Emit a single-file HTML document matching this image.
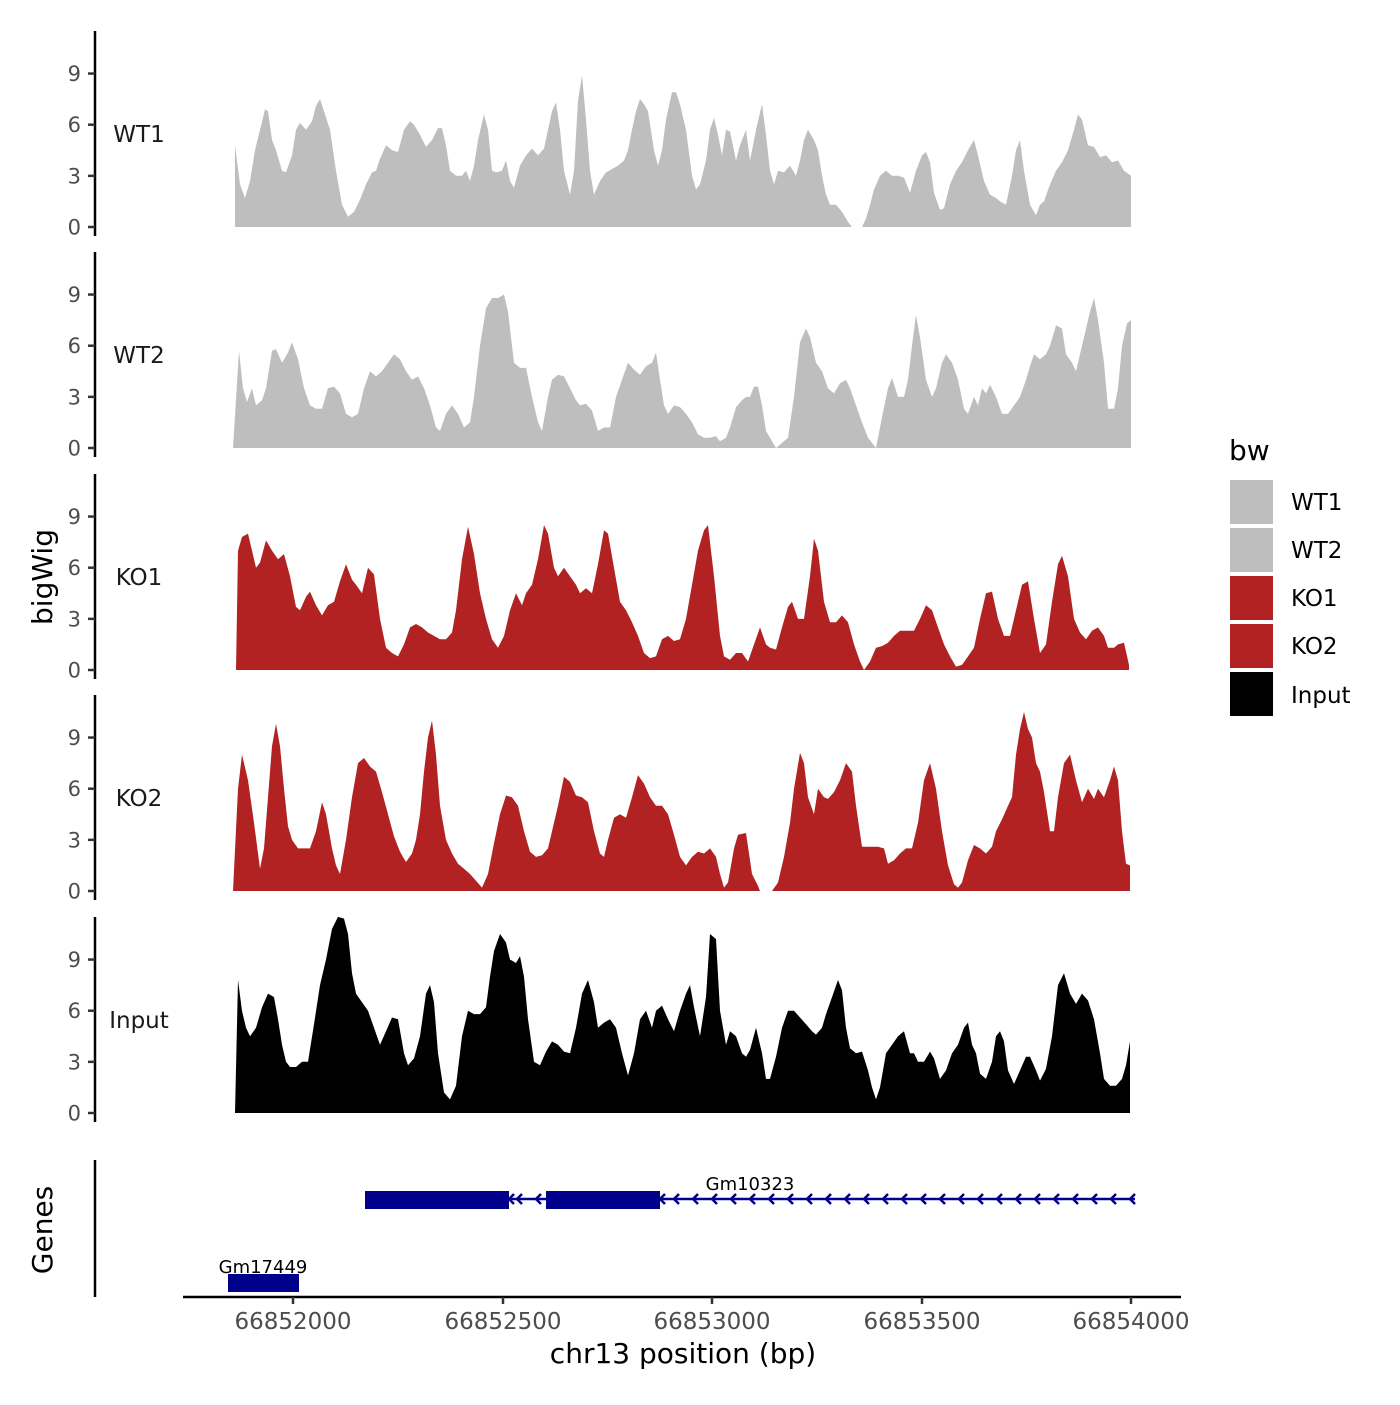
<!DOCTYPE html>
<html><head><meta charset="utf-8"><style>
html,body{margin:0;padding:0;background:#fff;}
svg text{font-family:"DejaVu Sans","Liberation Sans",sans-serif;}
</style></head><body>
<svg id="s" width="1400" height="1400" viewBox="0 0 1400 1400" xmlns="http://www.w3.org/2000/svg">
<rect width="1400" height="1400" fill="#fff"/>
<g id="tracks"></g>
<g id="axes" stroke="#000" stroke-width="2.5" fill="none"></g>
<g id="ticks"></g>
<g fill="#00008B" stroke="#00008B">
<line x1="365" y1="1199" x2="1135" y2="1199" stroke-width="2.5"/>
<rect x="365" y="1191" width="144" height="18" stroke="none"/>
<rect x="546" y="1191" width="114" height="18" stroke="none"/>
<rect x="228" y="1274" width="71" height="18" stroke="none"/>
<g id="chev" fill="none" stroke-width="2.5"></g>
</g>
<text x="750" y="1190" font-size="18" text-anchor="middle" fill="#000">Gm10323</text>
<text x="263" y="1273" font-size="18" text-anchor="middle" fill="#000">Gm17449</text>
<line x1="183" y1="1297" x2="1181" y2="1297" stroke="#000" stroke-width="2.5"/>
<g id="xt"></g>
<text x="683" y="1363" font-size="28" text-anchor="middle" fill="#000">chr13 position (bp)</text>
<text transform="translate(52,577) rotate(-90)" font-size="28" text-anchor="middle" fill="#000">bigWig</text>
<text transform="translate(52,1230) rotate(-90)" font-size="28" text-anchor="middle" fill="#000">Genes</text>
<text x="1229" y="460" font-size="28" fill="#000">bw</text>
<rect x="1230" y="480" width="43" height="44" fill="#BEBEBE"/>
<rect x="1230" y="528" width="43" height="44" fill="#BEBEBE"/>
<rect x="1230" y="576" width="43" height="44" fill="#B22222"/>
<rect x="1230" y="624" width="43" height="44" fill="#B22222"/>
<rect x="1230" y="672" width="43" height="44" fill="#000"/>
<g font-size="23" fill="#000">
<text x="1291" y="510">WT1</text>
<text x="1291" y="558">WT2</text>
<text x="1291" y="606">KO1</text>
<text x="1291" y="654">KO2</text>
<text x="1291" y="703">Input</text>
</g>
</svg>
<script>
var NS="http://www.w3.org/2000/svg";
function el(t,a,p,txt){var e=document.createElementNS(NS,t);for(var k in a)e.setAttribute(k,a[k]);if(txt!==undefined)e.textContent=txt;p.appendChild(e);return e;}
var tracks=[
{name:"WT1",base:227,col:"#BEBEBE",d:[[235,0],[235,4.8],[240,2.5],[245,1.7],[250,2.7],[255,4.5],[260,5.7],[265,6.9],[268,6.8],[272,5.1],[276,4.5],[282,3.3],[286,3.2],[292,4.2],[296,5.7],[300,6.1],[306,5.7],[312,6.2],[316,7.1],[320,7.5],[324,6.8],[330,5.7],[336,3.3],[342,1.3],[348,0.6],[354,0.9],[360,1.6],[366,2.5],[372,3.2],[376,3.3],[380,4.0],[386,4.8],[392,4.5],[398,4.4],[404,5.7],[410,6.2],[414,6.0],[420,5.4],[426,4.7],[432,5.1],[438,5.8],[442,5.8],[446,4.8],[450,3.3],[456,3.0],[462,3.0],[466,3.3],[470,2.7],[474,3.6],[478,5.1],[484,6.6],[488,5.7],[492,3.3],[496,3.2],[502,3.3],[506,3.9],[510,2.7],[514,2.3],[520,3.6],[526,4.2],[532,4.6],[538,4.2],[544,4.6],[548,5.7],[552,6.8],[556,7.3],[560,5.7],[564,3.3],[570,1.9],[574,3.3],[578,7.4],[582,8.9],[586,6.3],[590,3.3],[594,1.9],[600,2.7],[606,3.2],[612,3.4],[618,3.6],[624,3.9],[628,4.5],[632,5.7],[636,6.8],[640,7.5],[644,7.2],[648,6.8],[654,4.5],[658,3.6],[662,4.5],[666,6.3],[672,7.9],[676,7.9],[680,7.2],[686,5.7],[692,3.0],[696,2.2],[700,2.5],[706,3.9],[710,5.7],[714,6.4],[718,5.4],[722,4.2],[726,5.7],[730,5.6],[736,3.9],[740,4.8],[746,5.7],[750,3.9],[756,5.7],[762,7.2],[766,5.4],[770,3.3],[774,2.5],[778,3.3],[784,3.2],[790,3.6],[796,3.0],[800,3.9],[804,5.1],[808,5.7],[814,5.1],[818,4.5],[822,3.0],[826,1.9],[830,1.3],[836,1.3],[842,0.9],[848,0.3],[852,0],[862,0],[866,0.5],[870,1.3],[874,2.2],[880,3.0],[886,3.3],[892,3.0],[898,3.0],[904,2.9],[910,2.0],[916,3.3],[922,4.2],[926,4.4],[930,3.8],[934,2.0],[940,1.0],[944,1.1],[950,2.5],[956,3.3],[962,3.8],[968,4.5],[974,5.1],[978,4.2],[984,2.7],[990,1.9],[996,1.7],[1000,1.5],[1006,1.3],[1012,3.0],[1016,4.5],[1020,5.1],[1024,3.3],[1030,1.3],[1036,0.7],[1040,1.3],[1044,1.5],[1050,2.5],[1056,3.3],[1062,3.8],[1068,4.5],[1074,5.7],[1078,6.6],[1082,6.3],[1088,4.8],[1094,4.7],[1100,4.1],[1106,4.2],[1112,3.8],[1118,3.9],[1124,3.3],[1131,3.0],[1131,0]]},
{name:"WT2",base:448,col:"#BEBEBE",d:[[233,0],[239,5.7],[243,3.5],[247,2.7],[252,3.5],[256,2.5],[262,2.8],[266,3.5],[272,5.7],[276,5.8],[282,5],[288,5.6],[292,6.2],[298,5.2],[304,3.5],[310,2.5],[316,2.3],[322,2.3],[328,3.5],[334,3.6],[340,3.2],[346,2.0],[352,1.8],[358,2.0],[364,3.5],[370,4.5],[376,4.2],[382,4.5],[388,5.0],[394,5.5],[400,5.2],[406,4.5],[412,4.0],[418,4.2],[424,3.5],[430,2.5],[436,1.2],[440,1.0],[446,2.0],[452,2.5],[458,2.0],[464,1.2],[470,1.5],[474,3.0],[480,6.0],[486,8.2],[492,8.8],[498,8.8],[504,9.0],[508,8.0],[514,5.0],[520,4.7],[526,4.7],[532,3.0],[538,1.5],[542,1.0],[548,3.0],[552,4.0],[558,4.3],[564,4.2],[570,3.5],[576,2.8],[580,2.5],[586,2.6],[592,2.2],[598,1.0],[604,1.2],[610,1.2],[616,3.0],[622,4.0],[628,5.0],[634,4.6],[640,4.3],[646,4.8],[652,5.0],[656,5.6],[660,4.0],[664,2.5],[668,2.0],[674,2.5],[680,2.4],[686,2.0],[692,1.5],[698,0.8],[704,0.6],[710,0.6],[716,0.7],[720,0.4],[726,0.6],[730,1.2],[736,2.4],[742,2.8],[746,3.0],[750,3.0],[754,3.6],[758,3.6],[762,2.5],[766,1.0],[770,0.6],[776,0],[782,0.3],[788,0.6],[794,3.0],[800,6.2],[806,7.0],[810,6.5],[816,5.0],[822,4.5],[828,3.5],[834,3.2],[840,3.8],[846,4.0],[850,3.5],[856,2.5],[862,1.5],[868,0.6],[876,0],[882,1.8],[888,3.5],[892,4.1],[898,3.0],[904,3.0],[908,4.0],[912,6.0],[916,7.8],[920,6.5],[926,4.0],[932,3.0],[936,3.5],[942,5.0],[946,5.5],[952,5.0],[958,4.0],[964,2.3],[968,2.0],[974,3.0],[978,2.5],[982,3.5],[986,3.2],[990,3.7],[996,3.0],[1002,2.0],[1008,2.0],[1014,2.5],[1020,3.0],[1026,4.0],[1030,4.8],[1034,5.5],[1040,5.2],[1046,5.5],[1050,6.0],[1056,7.2],[1062,7.0],[1066,5.5],[1072,5.0],[1076,4.5],[1080,5.5],[1084,6.5],[1090,8.0],[1094,8.8],[1098,7.5],[1104,5.0],[1108,2.3],[1114,2.3],[1118,3.5],[1122,6.0],[1127,7.3],[1131,7.5],[1131,0]]},
{name:"KO1",base:670,col:"#B22222",d:[[236,0],[238,7.0],[242,7.8],[248,8.0],[252,7.0],[256,6.0],[260,6.3],[266,7.6],[272,7.0],[278,6.5],[284,6.8],[290,5.5],[296,3.7],[300,3.5],[306,4.3],[310,4.6],[316,3.8],[322,3.2],[328,3.8],[334,4.0],[340,5.2],[346,6.2],[352,5.3],[356,5.0],[362,4.5],[368,6.0],[374,5.6],[380,3.0],[386,1.3],[392,1.0],[398,0.8],[404,1.5],[410,2.5],[416,2.7],[422,2.5],[428,2.2],[434,2.0],[440,1.8],[446,1.8],[452,2.2],[456,3.5],[462,6.5],[468,8.4],[474,6.8],[480,4.5],[486,3.0],[492,1.8],[498,1.3],[504,2.0],[510,3.5],[516,4.5],[522,3.8],[526,4.5],[532,5.0],[538,6.5],[544,8.5],[548,8.0],[554,6.0],[558,5.5],[564,6.0],[570,5.5],[576,5.0],[580,4.5],[586,4.8],[592,4.5],[598,6.2],[604,8.2],[608,8.0],[614,6.0],[620,4.0],[626,3.5],[632,2.8],[638,2.0],[644,1.0],[650,0.7],[656,0.8],[662,1.8],[668,2.0],[674,1.7],[680,1.8],[686,3.0],[692,5.0],[698,7.0],[704,8.2],[708,8.5],[714,5.5],[720,2.0],[724,0.8],[730,0.6],[736,1.0],[742,1.0],[748,0.5],[754,1.5],[760,2.5],[766,1.5],[770,1.3],[776,1.2],[782,2.5],[788,3.7],[792,4.0],[798,3.0],[804,3.0],[810,5.5],[814,7.7],[818,7.0],[824,4.0],[830,2.8],[836,2.8],[842,3.2],[848,2.8],[854,1.5],[860,0.5],[864,0],[870,0.5],[876,1.3],[882,1.4],[888,1.6],[894,2.0],[900,2.3],[906,2.3],[914,2.3],[920,3.0],[926,3.8],[932,3.5],[938,2.5],[944,1.5],[950,0.8],[956,0.2],[962,0.3],[968,0.8],[974,1.3],[980,3.0],[986,4.5],[992,4.6],[998,3.0],[1004,2.0],[1010,2.0],[1016,3.5],[1022,5.0],[1028,5.2],[1034,3.0],[1040,1.0],[1046,1.5],[1052,4.0],[1058,6.2],[1062,6.7],[1068,5.5],[1074,3.0],[1080,2.2],[1086,1.8],[1092,2.3],[1098,2.5],[1104,2.0],[1108,1.3],[1114,1.3],[1118,1.5],[1124,1.6],[1129,0.3],[1129,0]]},
{name:"KO2",base:891,col:"#B22222",d:[[233,0],[238,6],[242,8.0],[248,6.5],[254,4.0],[260,1.3],[264,2.5],[268,5.5],[272,8.5],[276,9.8],[280,8.5],[284,6.0],[288,3.8],[292,3.0],[298,2.5],[304,2.5],[310,2.5],[316,3.5],[322,5.2],[326,4.5],[332,2.5],[336,1.5],[340,1.0],[346,3.0],[352,5.5],[358,7.5],[364,7.8],[370,7.3],[376,7.0],[382,5.8],[388,4.5],[394,3.2],[400,2.3],[406,1.7],[412,2.2],[416,3.0],[420,4.5],[424,7.0],[428,9.0],[432,10.0],[436,8.0],[440,5.0],[446,3.0],[452,2.2],[458,1.6],[464,1.3],[470,1.0],[476,0.6],[482,0.2],[488,1.0],[494,2.8],[500,4.5],[506,5.6],[512,5.5],[518,5.0],[524,3.5],[530,2.3],[536,2.0],[542,2.1],[548,2.5],[552,3.5],[558,5.0],[564,6.7],[570,6.4],[576,5.6],[582,5.5],[588,5.2],[594,3.5],[600,2.2],[604,2.0],[608,3.0],[614,4.3],[620,4.5],[626,4.3],[632,5.5],[638,6.8],[644,6.3],[650,5.5],[656,5.0],[662,5.0],[668,4.5],[674,3.3],[680,2.0],[686,1.5],[692,2.0],[698,2.3],[704,2.2],[710,2.5],[716,2.0],[720,1.0],[724,0.2],[728,0.5],[734,2.5],[738,3.3],[746,3.4],[752,1.0],[758,0.3],[760,0],[772,0],[778,0.5],[784,2.0],[790,4.0],[794,6.0],[800,8.1],[804,7.5],[808,5.5],[814,4.5],[818,6.0],[824,5.5],[828,5.4],[834,5.8],[840,6.5],[846,7.5],[852,7.0],[856,5.0],[862,2.6],[870,2.6],[878,2.6],[884,2.5],[888,1.6],[894,1.8],[900,2.2],[906,2.5],[912,2.5],[918,4.0],[924,6.5],[930,7.5],[936,6.0],[942,3.5],[948,1.5],[954,0.4],[958,0.2],[962,0.5],[968,1.8],[974,2.7],[980,2.5],[986,2.2],[992,2.6],[996,3.5],[1002,4.2],[1008,5.0],[1012,5.5],[1016,8.0],[1020,9.5],[1024,10.5],[1028,9.5],[1032,9.0],[1036,7.5],[1040,7.0],[1044,5.8],[1050,3.5],[1054,3.5],[1058,5.5],[1064,7.5],[1070,8.0],[1076,6.5],[1082,5.2],[1088,6.0],[1094,5.4],[1098,6.0],[1104,5.5],[1110,6.5],[1114,7.3],[1118,6.5],[1122,3.5],[1126,1.6],[1130,1.5],[1130,0]]},
{name:"Input",base:1113,col:"#000000",d:[[235,0],[238,7.8],[242,6.0],[246,5.0],[250,4.5],[256,5.0],[262,6.2],[268,7.0],[274,6.8],[278,5.5],[282,4.0],[286,3.0],[290,2.7],[296,2.7],[302,3.0],[308,3.0],[314,5.2],[320,7.5],[326,9.0],[332,10.8],[338,11.5],[344,11.4],[348,10.5],[352,8.2],[356,7.0],[362,6.5],[368,6.0],[374,5.0],[380,4.0],[386,4.8],[392,5.6],[398,5.5],[404,3.5],[408,2.8],[414,3.2],[420,4.5],[426,7.0],[430,7.5],[434,6.5],[438,3.5],[444,1.2],[450,0.8],[456,1.6],[462,4.5],[468,6.0],[474,5.8],[480,5.8],[486,6.2],[490,8.0],[494,9.5],[500,10.5],[506,10.0],[510,9.0],[516,8.8],[520,9.2],[524,8.0],[528,5.5],[534,3.0],[540,2.8],[546,3.6],[552,4.2],[558,4.0],[564,3.6],[570,3.5],[576,5.0],[582,7.0],[588,7.8],[594,6.5],[598,5.0],[604,5.3],[610,5.5],[616,5.0],[622,3.5],[628,2.2],[634,3.5],[640,5.5],[646,6.0],[652,5.0],[656,6.0],[662,6.3],[668,5.5],[674,4.8],[680,6.0],[686,7.0],[690,7.5],[694,6.2],[700,4.5],[706,6.8],[710,10.5],[716,10.2],[720,6.0],[726,4.0],[730,4.8],[736,4.5],[742,3.5],[746,3.3],[750,3.7],[756,5.0],[762,3.5],[766,2.0],[770,2.0],[776,3.3],[782,5.0],[788,6.0],[794,6.0],[800,5.6],[806,5.2],[812,4.8],[816,4.6],[822,5.0],[826,5.8],[832,6.8],[838,7.8],[842,7.2],[846,5.0],[850,3.8],[856,3.5],[862,3.6],[868,2.5],[872,1.5],[876,0.8],[880,1.5],[886,3.5],[892,4.0],[898,4.5],[904,4.8],[910,3.5],[914,3.5],[918,3.0],[924,3.0],[930,3.6],[934,3.2],[940,2.0],[946,2.5],[952,3.5],[958,4.0],[964,5.0],[968,5.3],[972,4.0],[976,3.5],[980,2.3],[986,2.0],[992,3.0],[996,4.5],[1000,4.8],[1004,4.2],[1008,2.5],[1014,1.7],[1020,2.5],[1026,3.3],[1030,3.3],[1036,2.5],[1040,1.9],[1046,2.6],[1052,4.5],[1058,7.5],[1064,8.2],[1070,7.0],[1076,6.4],[1082,7.0],[1088,6.6],[1094,5.5],[1100,3.5],[1104,2.0],[1110,1.6],[1116,1.6],[1122,2.0],[1126,2.8],[1130,4.2],[1130,0]]}
];
var unit=17.05;
var T=document.getElementById("tracks"),A=document.getElementById("axes"),K=document.getElementById("ticks");
tracks.forEach(function(t){
  var s="M"+t.d[0][0]+","+t.base;
  t.d.forEach(function(p){s+=" L"+p[0]+","+(t.base-p[1]*unit).toFixed(1);});
  s+=" Z";
  el("path",{d:s,fill:t.col},T);
  el("line",{x1:95,y1:t.base-196,x2:95,y2:t.base+9},A);
  [0,3,6,9].forEach(function(v){
    var y=t.base-v*unit;
    el("line",{x1:88,y1:y,x2:95,y2:y,stroke:"#333","stroke-width":2.5},K);
    el("text",{x:81,y:y+7.5,"font-size":21,"text-anchor":"end",fill:"#4d4d4d"},K,String(v));
  });
  el("text",{x:139,y:t.base-85,"font-size":23,"text-anchor":"middle",fill:"#1a1a1a"},K,t.name);
});
el("line",{x1:95,y1:1160,x2:95,y2:1297},A);
var X=document.getElementById("xt");
[["66852000",293],["66852500",503],["66853000",712],["66853500",922],["66854000",1131]].forEach(function(a){
  el("line",{x1:a[1],y1:1297,x2:a[1],y2:1304,stroke:"#333","stroke-width":2.5},X);
  el("text",{x:a[1],y:1329,"font-size":23,"text-anchor":"middle",fill:"#4d4d4d"},X,a[0]);
});
var C=document.getElementById("chev");
var xs=[517,536];
for(var x=674;x<1135;x+=19)xs.push(x);
xs.push(509);xs.push(660);
xs.forEach(function(x){el("path",{d:"M"+(x+5)+",1194 L"+x+",1199 L"+(x+5)+",1204"},C);});
</script>
</body></html>
